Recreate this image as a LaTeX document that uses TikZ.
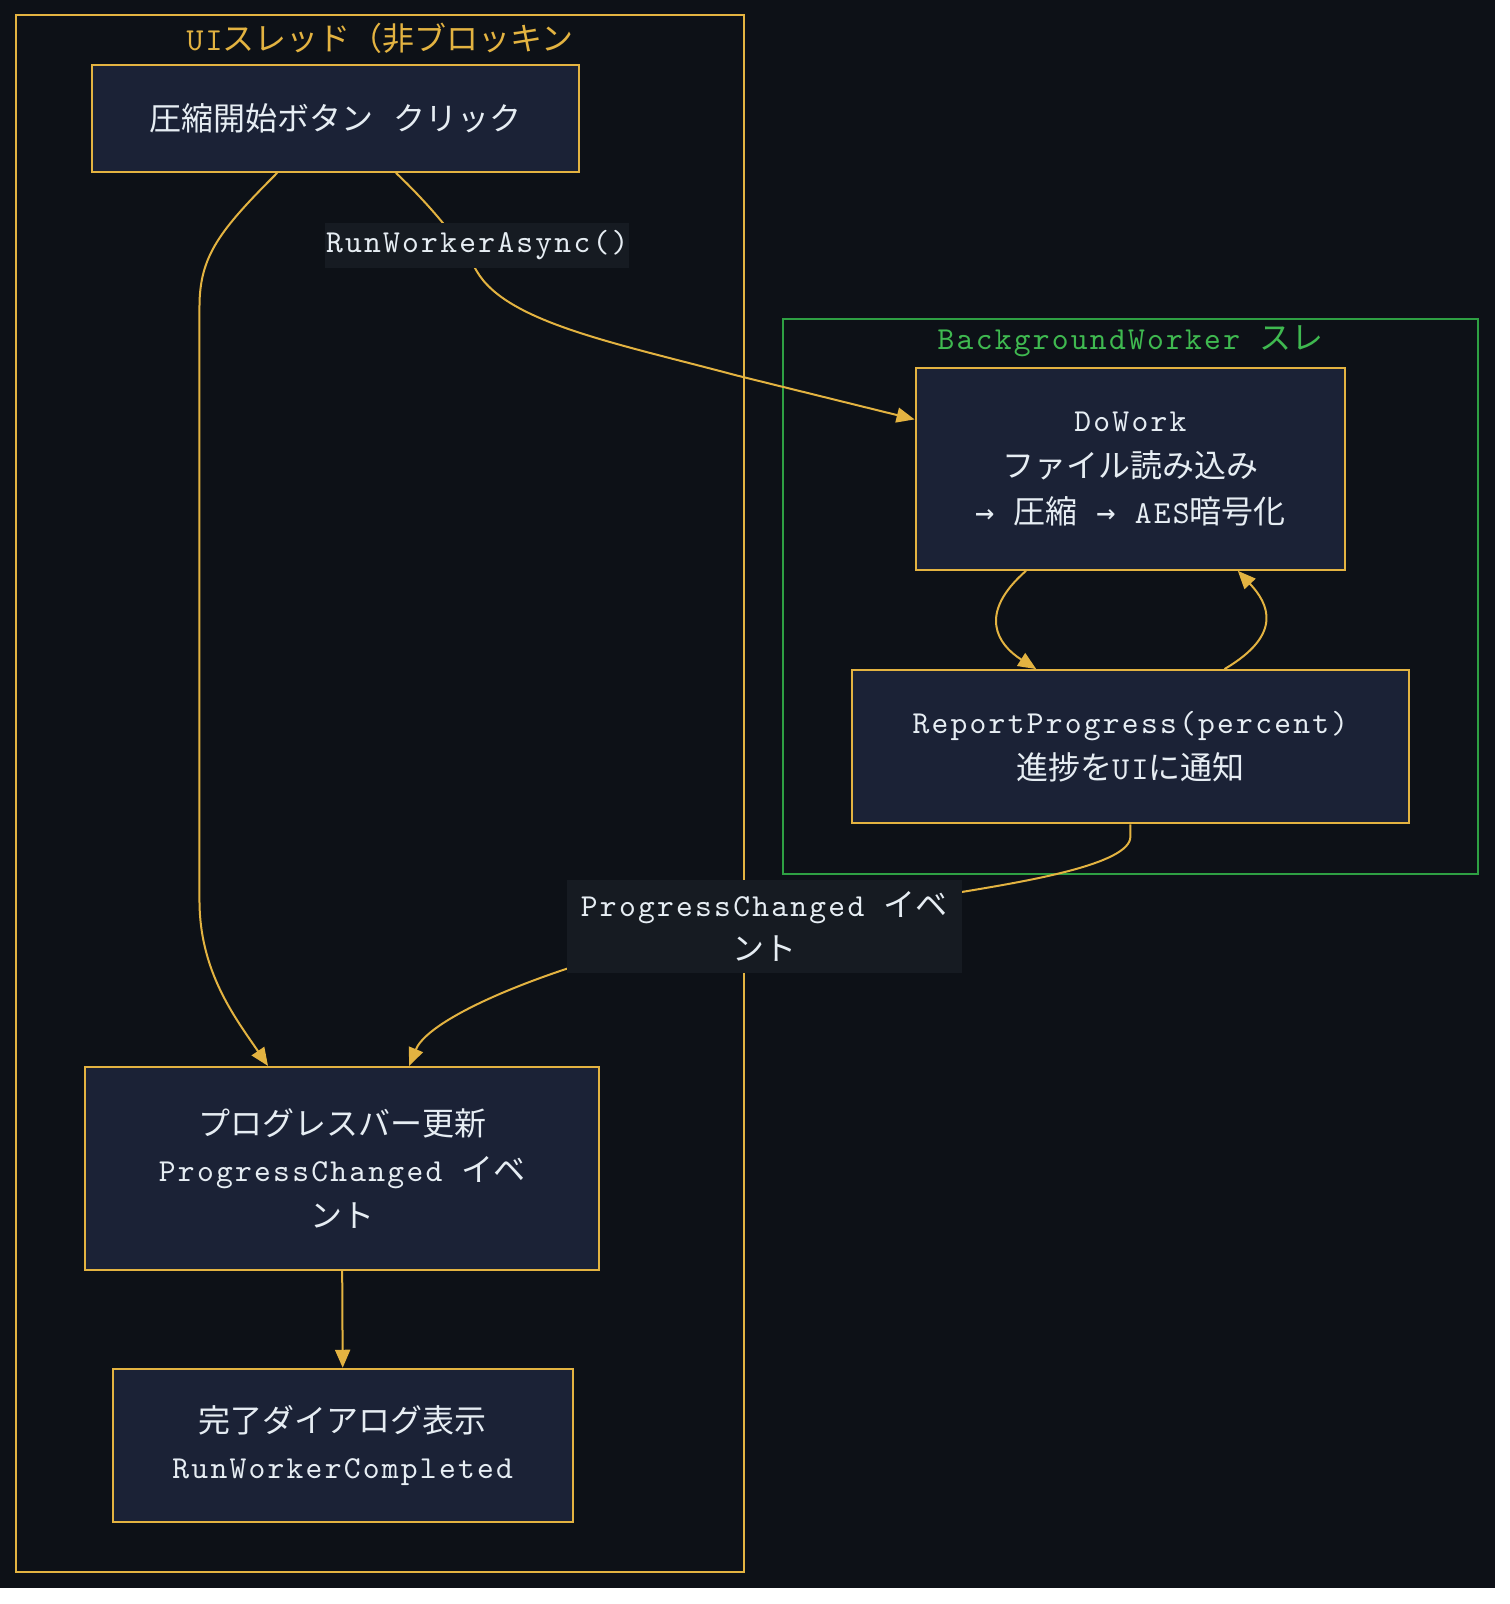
\documentclass[tikz,border=0pt]{standalone}
\usepackage{fontspec}
\setmainfont{lmmono10-regular.otf}[LetterSpace=7]
\newfontfamily\jp{Noto Sans CJK JP}
\newfontfamily\arr{DejaVu Sans Mono}
\usetikzlibrary{arrows.meta,calc}
\definecolor{bgc}{HTML}{0D1117}
\definecolor{gold}{HTML}{E3B341}
\definecolor{grn}{HTML}{2EA043}
\definecolor{grntxt}{HTML}{3FB950}
\definecolor{nodefill}{HTML}{1B2236}
\definecolor{lblfill}{HTML}{161B22}
\definecolor{txt}{HTML}{E6EDF3}
\tikzset{
  box/.style={draw=gold, line width=1pt, fill=nodefill, text=txt, align=center, inner sep=0pt, font=\fontsize{16}{23}\selectfont},
  lbl/.style={fill=lblfill, text=txt, align=center, inner sep=0pt, font=\fontsize{16}{22}\selectfont},
  ttl/.style={inner sep=0pt, font=\fontsize{16}{23}\selectfont},
  edge/.style={draw=gold, line width=1pt, -{Triangle[length=9pt,width=7.5pt]}},
  cluster/.style={line width=1pt}
}
\begin{document}
\begin{tikzpicture}[x=0.5115pt,y=-0.5115pt]
\fill[white] (0,0) rectangle (1476,1568);
\useasboundingbox (0,0) rectangle (1476,1568);
\fill[bgc] (0,0) rectangle (1461,1552);
% clusters
\draw[cluster, gold] (16,15) rectangle (727,1537);
\draw[cluster, grn] (765,312) rectangle (1445,854);
\node[ttl, text=gold] (t1) at (371.5,37) {UI{\jp スレッド（非ブロッキン}};
\node[ttl, text=grntxt] (t2) at (1105,334) {BackgroundWorker {\jp スレ}};
% nodes
\node[box, minimum width=243.5pt, minimum height=53.2pt] (A) at (328,116) {{\jp 圧縮開始ボタン\hspace{0.6em}クリック}};
\node[box, minimum width=214.8pt, minimum height=100.8pt] (DW) at (1105,458.5) {DoWork\\{\jp ファイル読み込み}\\{\arr →} {\jp 圧縮} {\arr →} AES{\jp 暗号化}};
\node[box, minimum width=278.3pt, minimum height=76.7pt] (RP) at (1105,730) {ReportProgress(percent)\\{\jp 進捗を}UI{\jp に通知}};
\node[box, minimum width=257.3pt, minimum height=101.3pt] (PB) at (334.5,1142) {{\jp プログレスバー更新}\\ProgressChanged {\jp イベ}\\{\jp ント}};
\node[box, minimum width=230.2pt, minimum height=76.7pt] (DN) at (335,1413) {{\jp 完了ダイアログ表示}\\RunWorkerCompleted};
% edges
\draw[edge] ($(A.south)+(-57,0)$) .. controls (215,225) and (195,250) .. (195,300) -- (195,880) .. controls (195,950) and (230,995) .. ($(PB.north)+(-72.5,0)$);
\draw[edge] ($(A.south)+(59,0)$) .. controls (425,205) and (452,240) .. (466,265) .. controls (495,315) and (600,335) .. (720,367) -- ($(DW.west)+(0,-48.5)$);
\draw[edge] ($(DW.south)+(-102,0)$) .. controls (955,600) and (975,630) .. ($(RP.north)+(-92,0)$);
\draw[edge] ($(RP.north)+(92,0)$) .. controls (1255,620) and (1240,590) .. ($(DW.south)+(105,0)$);
\draw[edge] (RP.south) -- ++(0,12) .. controls (1105,845) and (1000,862) .. (940,872) -- (554,947) .. controls (470,975) and (415,1005) .. ($(PB.north)+(65.5,0)$);
\draw[edge] (PB.south) -- (DN.north);
% edge labels
\node[lbl, minimum width=151.9pt, minimum height=22.5pt] (L1) at (466.5,240) {RunWorkerAsync()};
\node[lbl, minimum width=197.4pt, minimum height=46.5pt] (L2) at (747,905.5) {ProgressChanged {\jp イベ}\\{\jp ント}};
\end{tikzpicture}
\end{document}
